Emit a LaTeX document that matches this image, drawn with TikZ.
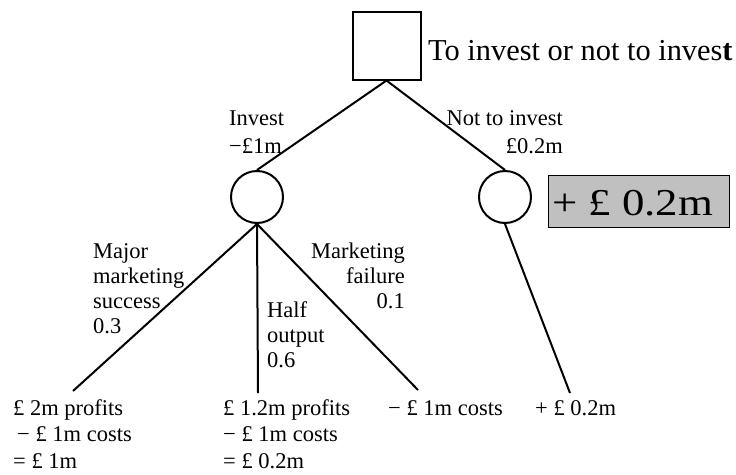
\documentclass[tikz,border=0pt]{standalone}
\usepackage{fontspec}
\usepackage{graphicx}
\setmainfont{Liberation Serif}
\begin{document}
\begin{tikzpicture}[x=1pt,y=-1pt,
  conn/.style={line width=2pt,black},
  lbl/.style={inner sep=0pt,font=\fontsize{22.5}{25}\selectfont},
  toplbl/.style={inner sep=0pt,font=\fontsize{22.5}{28}\selectfont},
  leaf/.style={inner sep=0pt,anchor=base west,align=left,font=\fontsize{22.5}{26.5}\selectfont},
  chance/.style={circle,draw,line width=2pt,minimum size=52pt,inner sep=0pt},
  decision/.style={rectangle,draw,line width=2pt,minimum size=68pt,inner sep=0pt}]
\useasboundingbox (0,0) rectangle (736,474);
\node[decision] (dec) at (386.5,45.5) {};
\node[inner sep=0pt,anchor=base west,font=\fontsize{30.4}{35}\selectfont] (title) at (428,60) {To invest or not to inves\textbf{t}};
\node[chance] (c1) at (257,197) {};
\node[chance] (c2) at (505,197) {};
\node[rectangle,draw,fill={rgb,255:red,192;green,192;blue,192},line width=0.8pt,minimum width=181pt,minimum height=52pt,inner sep=0pt] (val) at (638.5,201) {};
\node[inner sep=0pt,anchor=base west,font=\fontsize{38}{40}\selectfont] (valtxt) at (552,215) {\scalebox{1.18}[1]{+ £ 0.2m}};
\draw[conn] (dec.south) -- (c1.north);
\draw[conn] (dec.south) -- (c2.north);
\node[toplbl,anchor=base west,align=left] (linv) at (229,153) {Invest\\−£1m};
\node[toplbl,anchor=base east,align=right] (lnot) at (563,153) {Not to invest\\£0.2m};
\coordinate (e1) at (73,391);
\coordinate (e2) at (258,393);
\coordinate (e3) at (418,390);
\coordinate (e4) at (570,393);
\draw[conn] (c1.south) -- (e1);
\draw[conn] (c1.south) -- (e2);
\draw[conn] (c1.south) -- (e3);
\draw[conn] (c2.south) -- (e4);
\node[lbl,anchor=base west,align=left] (lmaj) at (93,333) {Major\\marketing\\success\\0.3};
\node[lbl,anchor=base west,align=left] (lhalf) at (267,367) {Half\\output\\0.6};
\node[lbl,anchor=base east,align=right] (lfail) at (405,308) {Marketing\\failure\\0.1};
\node[leaf] (r1) at (13,468) {£ 2m profits\\\hspace*{4pt}− £ 1m costs\\= £ 1m};
\node[leaf] (r2) at (223,468) {£ 1.2m profits\\− £ 1m costs\\= £ 0.2m};
\node[leaf] (r3) at (388,415) {− £ 1m costs};
\node[leaf] (r4) at (535,415) {+ £ 0.2m};
\end{tikzpicture}
\end{document}
